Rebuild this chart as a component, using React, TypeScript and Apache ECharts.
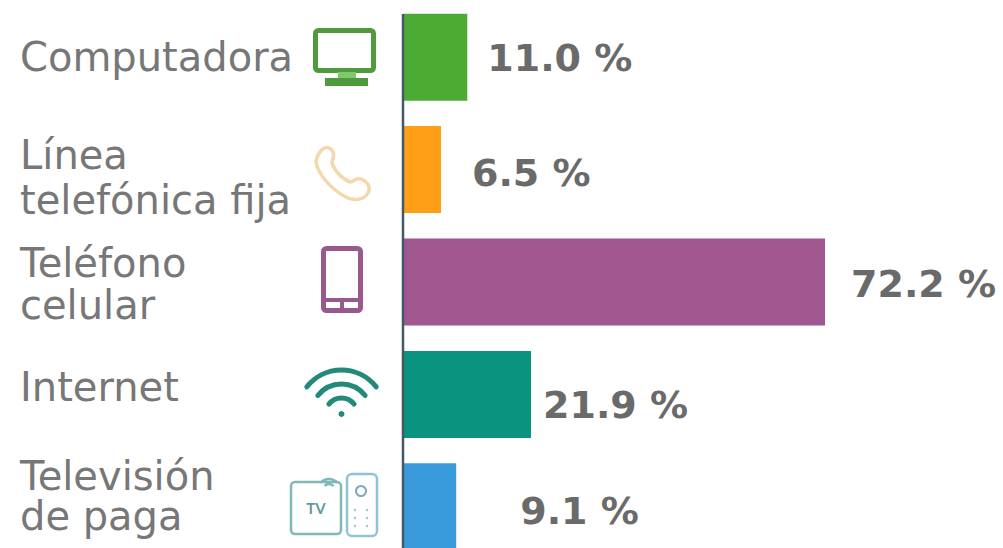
import React, { useEffect, useRef } from "react";
import * as echarts from "echarts";

const categories = ["Computadora", "Línea\ntelefónica fija", "Teléfono\ncelular", "Internet", "Televisión\nde paga"];
const values = [11.0, 6.5, 72.2, 21.9, 9.1];
const colors = ["#4cab33", "#ff9e17", "#a0568f", "#0a9480", "#3a9bdc"];
const valueLabels = ["11.0 %", "6.5 %", "72.2 %", "21.9 %", "9.1 %"];
const valueOffsets = [[20, 1], [31, 3], [26, 2], [12, 11], [64, 4]];
const nameOffsets = [[-383, 0], [-383, 8], [-383, 2], [-383, -7], [-383, -11]];
const nameLineHeights = [44, 45, 42, 44, 40];

const phonePath = "M4 6 C8 0 14 0 17 6 C19 10 16 13 16 17 C18 24 26 33 34 36 C38 36 40 31 45 33 C52 36 55 41 52 47 C48 54 38 56 28 50 C14 42 2 28 0 16 C0 12 2 9 4 6 Z";
echarts.graphic.registerShape("phoneIcon", echarts.graphic.extendPath(phonePath as any, {}) as any);

export default function App() {
  const ref = useRef<HTMLDivElement>(null);
  useEffect(() => {
    document.body.style.margin = "0";
    const chart = echarts.init(ref.current!, undefined, { renderer: "svg" });
    const green = "#4f9a3d", purple = "#985a8e", teal = "#23897a", tv = "#7fb8b8";
    const arcs = [44, 30, 16].map((r) => ({
      type: "arc", shape: { cx: 341.5, cy: 414, r, startAngle: (-142 * Math.PI) / 180, endAngle: (-38 * Math.PI) / 180 },
      style: { stroke: teal, lineWidth: 5, fill: "none", lineCap: "round" }, silent: true,
    }));
    chart.setOption({
      animation: false,
      backgroundColor: "#ffffff",
      grid: { left: 403, top: 1, width: 584.5, height: 562, containLabel: false, outerBoundsMode: "none" },
      xAxis: { type: "value", min: 0, max: 100, show: false },
      yAxis: {
        type: "category",
        inverse: true,
        data: categories,
        axisLine: { show: false },
        axisTick: { show: false },
        axisLabel: { show: false },
      },
      series: [
        {
          type: "bar",
          barWidth: 87,
          barGap: "-100%",
          data: values.map((v, i) => ({
            value: v,
            itemStyle: { color: colors[i] },
            label: { offset: valueOffsets[i] },
          })),
          label: {
            show: true, position: "right", distance: 0,
            formatter: (p: any) => valueLabels[p.dataIndex],
            color: "#6a6a6a", fontFamily: "DejaVu Sans", fontWeight: "bold", fontSize: 38,
          },
        },
        {
          type: "bar",
          barWidth: 87,
          barGap: "-100%",
          silent: true,
          itemStyle: { color: "transparent" },
          data: values.map((_, i) => ({
            value: 0,
            label: { offset: nameOffsets[i], lineHeight: nameLineHeights[i] },
          })),
          label: {
            show: true, position: "insideLeft", distance: 0, align: "left", verticalAlign: "middle",
            formatter: "{b}",
            color: "#777777", fontFamily: "DejaVu Sans", fontSize: 40,
          },
        },
      ],
      graphic: [
        { type: "line", shape: { x1: 403, y1: 14, x2: 403, y2: 548 }, style: { stroke: "#45586a", lineWidth: 2.5 }, z: 10, silent: true },
        { type: "rect", shape: { x: 315.5, y: 30.5, width: 58, height: 40, r: 3 }, style: { stroke: green, lineWidth: 5, fill: "#fff" }, silent: true },
        { type: "rect", shape: { x: 325, y: 78, width: 43, height: 8 }, style: { fill: green }, silent: true },
        { type: "rect", shape: { x: 338, y: 72, width: 18, height: 6 }, style: { fill: "#7fc96a" }, silent: true },
        { type: "phoneIcon", x: 316, y: 146, style: { fill: "#fff", stroke: "#f3d8ad", lineWidth: 3.5 }, silent: true },
        { type: "rect", shape: { x: 323.5, y: 248.5, width: 37, height: 62, r: 3 }, style: { stroke: purple, lineWidth: 5, fill: "#fff" }, silent: true },
        { type: "rect", shape: { x: 323, y: 298, width: 38, height: 4 }, style: { fill: purple }, silent: true },
        { type: "rect", shape: { x: 340, y: 300, width: 4, height: 10 }, style: { fill: purple }, silent: true },
        ...arcs,
        { type: "circle", shape: { cx: 341.5, cy: 414, r: 3 }, style: { fill: teal }, silent: true },
        { type: "rect", shape: { x: 291, y: 482, width: 50, height: 52, r: 4 }, style: { stroke: tv, lineWidth: 2.5, fill: "#fff" }, silent: true },
        { type: "arc", shape: { cx: 329, cy: 490, r: 11, startAngle: -2.4, endAngle: -0.7 }, style: { stroke: tv, lineWidth: 2.5, fill: "none" }, silent: true },
        { type: "arc", shape: { cx: 329, cy: 490, r: 6, startAngle: -2.4, endAngle: -0.7 }, style: { stroke: tv, lineWidth: 2.5, fill: "none" }, silent: true },
        { type: "text", style: { text: "TV", x: 316, y: 508, align: "center", verticalAlign: "middle", fill: "#5f9a9c", font: "bold 15px Lato" }, silent: true },
        { type: "rect", shape: { x: 347, y: 474, width: 30, height: 62, r: 5 }, style: { stroke: "#8fc4d6", lineWidth: 2.5, fill: "#fff" }, silent: true },
        { type: "circle", shape: { cx: 361, cy: 491, r: 5 }, style: { stroke: "#7fa9bd", lineWidth: 2, fill: "#fff" }, silent: true },
        ...[510, 518, 526].flatMap((y) => [355, 367].map((x) => ({
          type: "circle", shape: { cx: x, cy: y, r: 1.2 }, style: { fill: "#9fbfcc" }, silent: true,
        }))),
      ],
    });
    return () => chart.dispose();
  }, []);
  return <div ref={ref} style={{ width: 1003, height: 548, position: "absolute", left: 0, top: 0 }} />;
}
